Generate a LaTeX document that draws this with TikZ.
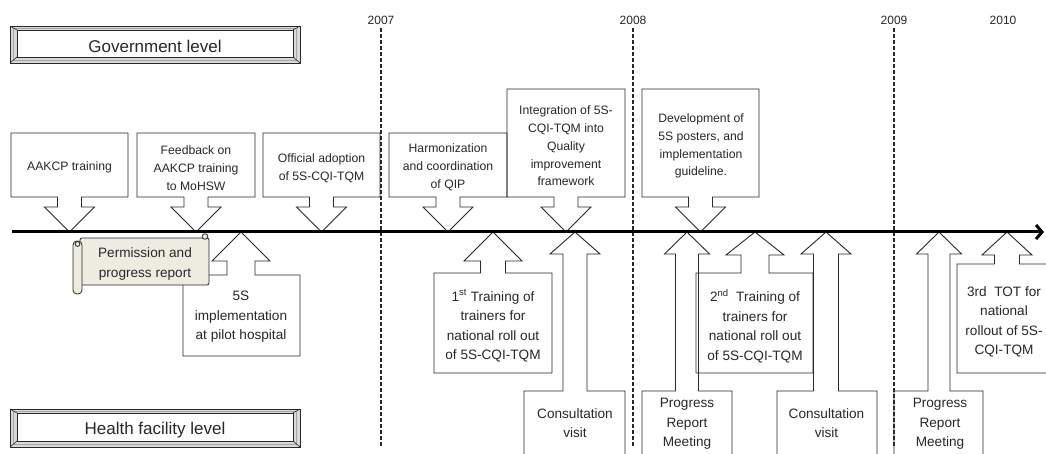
\documentclass[tikz,border=0pt]{standalone}
\usepackage{fontspec}
\setmainfont{Liberation Sans}
\usetikzlibrary{arrows.meta}
\definecolor{ink}{RGB}{40,40,40}
\definecolor{scrollfill}{RGB}{238,236,225}
\tikzset{
  callbox/.style={draw=ink, line width=0.9pt, line join=miter},
  toptext/.style={font=\fontsize{12.2}{17.8}\selectfont, text=ink, align=center, inner sep=0pt},
  bottext/.style={font=\fontsize{13.6}{19.5}\selectfont, text=ink, align=center, inner sep=0pt},
  yearline/.style={draw=ink, line width=1.6pt, dash pattern=on 4pt off 2pt},
  yeartext/.style={font=\fontsize{12}{14}\selectfont, text=ink, inner sep=0pt},
  leveltext/.style={font=\fontsize{17}{20}\selectfont, text=ink, inner sep=0pt},
  scrollpart/.style={draw=ink, fill=scrollfill, line width=0.8pt},
  timeline/.style={draw=black, line width=3pt, -{Straight Barb[length=6pt,width=14pt]}},
}
% callout: #1 x-left, #2 x-right, #3 far edge y, #4 edge y at the shaft,
% #5 tip x, #6 shaft half width, #7 head half width, #8 head base y, #9 tip y
\newcommand{\tlcallout}[9]{%
  \draw[callbox] (#1,#3) -- (#2,#3) -- (#2,#4) -- ({#5+#6},#4) -- ({#5+#6},#8)
    -- ({#5+#7},#8) -- (#5,#9) -- ({#5-#7},#8) -- ({#5-#6},#8) -- ({#5-#6},#4)
    -- (#1,#4) -- cycle;}
% bevelled label frame: #1 x1, #2 y1, #3 x2, #4 y2
\newcommand{\bevelframe}[4]{%
  \fill[gray!30] (#1,#2) rectangle (#3,#4);
  \fill[white] ({#1+7},{#2+4}) rectangle ({#3-7},{#4-6});
  \draw[gray!70, line width=0.5pt] ({#1+3.5},{#2+2}) rectangle ({#3-3.5},{#4-3});
  \draw[ink, line width=0.8pt] (#1,#2) rectangle (#3,#4);
  \draw[ink, line width=0.6pt] ({#1+7},{#2+4}) rectangle ({#3-7},{#4-6});
  \draw[ink, line width=0.6pt] (#1,#2) -- ({#1+7},{#2+4})
    (#3,#2) -- ({#3-7},{#2+4}) (#1,#4) -- ({#1+7},{#4-6}) (#3,#4) -- ({#3-7},{#4-6});}
\begin{document}
\begin{tikzpicture}[x=1pt, y=-1pt]
\clip (0,0) rectangle (1046,454);
\fill[white] (0,0) rectangle (1046,454);

% year separators
\foreach \yr/\xx in {2007/381, 2008/633, 2009/894} {
  \coordinate (top\yr) at (\xx,28);
  \coordinate (bot\yr) at (\xx,446);
  \draw[yearline] (top\yr) -- (bot\yr);
  \node[yeartext] (lab\yr) at (\xx,20) {\yr};
}
\node[yeartext] (lab2010) at (1003,20) {2010};

% level frames
\bevelframe{10}{26}{300}{63}
\node[leveltext] (gov) at (155,46.5) {Government level};
\bevelframe{10}{409}{300}{447}
\node[leveltext] (health) at (155,430.5) {Health facility level};

% government-level callouts (pointing down onto the timeline)
\tlcallout{11}{128}{133}{197}{69.5}{12}{25}{207}{232}
\tlcallout{137}{255}{133}{197}{196}{12}{25}{207}{232}
\tlcallout{263}{380}{133}{197}{321.5}{12}{25}{207}{232}
\tlcallout{389}{507}{133}{197}{448}{12}{25}{207}{232}
\tlcallout{507}{625}{89}{197}{566}{12}{25}{207}{232}
\tlcallout{642}{759}{89}{197}{700.5}{12}{25}{207}{232}

% health-facility-level callouts (pointing up onto the timeline)
\tlcallout{183}{300}{356}{275}{241}{14}{29}{261}{232}
\tlcallout{434}{552}{373}{273}{493}{12.5}{29}{261}{232}
\tlcallout{524}{625}{470}{391}{575}{12}{25}{254}{232}
\tlcallout{642}{732}{470}{391}{687}{11.5}{22.5}{254}{232}
\tlcallout{696}{813}{373}{273}{755}{14}{29}{255}{232}
\tlcallout{777}{877}{470}{391}{826}{12.5}{25}{254}{232}
\tlcallout{894}{983}{470}{391}{939}{11}{22.5}{254}{232}
\tlcallout{957}{1062}{373}{264}{1007}{12.5}{25}{255}{232}

% time axis
\coordinate (tlstart) at (12,232);
\coordinate (tlend) at (1044,232);
\draw[timeline] (tlstart) -- (tlend);

% scroll
\draw[scrollpart, rounded corners=2pt] (80,238) rectangle (209,285);
\draw[scrollpart, rounded corners=4pt] (73,241) rectangle (82,294);
\draw[scrollpart] (205,236.5) circle (2.8);
\draw[scrollpart] (77.5,244) circle (2.4);
\node[bottext] (permit) at (145,264) {Permission and\\progress report};

% callout texts, top
\node[toptext] (aakcp) at (69.5,167) {AAKCP training};
\node[toptext] (feedback) at (196,168) {Feedback on\\AAKCP training\\to MoHSW};
\node[toptext] (adopt) at (321.5,168) {Official adoption\\of 5S-CQI-TQM};
\node[toptext] (harmon) at (448,167) {Harmonization\\and coordination\\of QIP};
\node[toptext] (integ) at (566,146) {Integration of 5S-\\CQI-TQM into\\Quality\\improvement\\framework};
\node[toptext] (devel) at (701,146) {Development of\\5S posters, and\\implementation\\guideline.};

% callout texts, bottom
\node[bottext] (pilot) at (241,317) {5S\\implementation\\at pilot hospital};
\node[bottext] (tot1) at (493,326) {1\textsuperscript{st} Training of\\trainers for\\national roll out\\of 5S-CQI-TQM};
\node[bottext] (consult1) at (575,423) {Consultation\\visit};
\node[bottext] (progress1) at (687,424) {Progress\\Report\\Meeting};
\node[bottext] (tot2) at (755,326) {2\textsuperscript{nd}\ \ Training of\\trainers for\\national roll out\\of 5S-CQI-TQM};
\node[bottext] (consult2) at (826.5,423) {Consultation\\visit};
\node[bottext] (progress2) at (940,424) {Progress\\Report\\Meeting};
\node[bottext] (tot3) at (1004,322) {3rd\ \ TOT for\\national\\rollout of 5S-\\CQI-TQM};
\end{tikzpicture}
\end{document}
